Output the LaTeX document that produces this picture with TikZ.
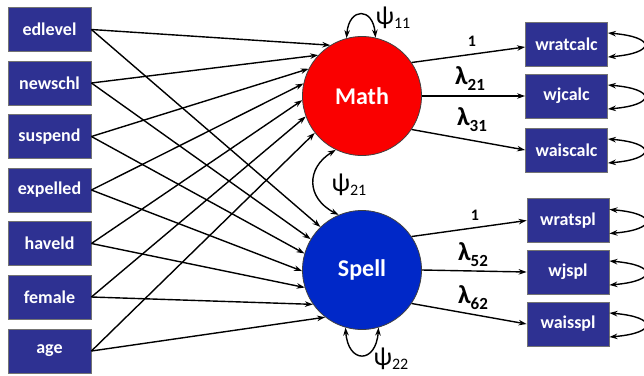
\documentclass[tikz,border=0pt]{standalone}
\usepackage{fontspec}
\setmainfont{Carlito}
\usetikzlibrary{arrows.meta,calc}
\definecolor{boxblue}{RGB}{46,49,146}
\definecolor{mathred}{RGB}{250,0,0}
\definecolor{spellblue}{RGB}{0,40,200}
\newcommand\lamlab[1]{{\fontsize{26}{26}\selectfont\bfseries λ}{\fontsize{17}{17}\selectfont\bfseries\raisebox{-6pt}{#1}}}
\newcommand\psilab[1]{{\fontsize{26}{26}\selectfont ψ}{\fontsize{16}{16}\selectfont\raisebox{-4pt}{#1}}}
\begin{document}
\begin{tikzpicture}[x=1pt,y=-1pt,
  obs/.style={draw=black!55,line width=0.8pt,fill=boxblue,minimum width=83pt,minimum height=44pt,inner sep=0pt,text=white,font=\fontsize{18}{18}\selectfont\bfseries},
  lat/.style={circle,draw=black!75,line width=0.8pt,minimum size=119pt,inner sep=0pt,text=white,font=\fontsize{24}{24}\selectfont\bfseries},
  arr/.style={-{Stealth[length=8pt,width=5.5pt]},line width=1.4pt},
  dbl/.style={{Stealth[length=8pt,width=5.5pt]}-{Stealth[length=8pt,width=5.5pt]},line width=1.4pt},
  lab/.style={inner sep=0pt,text=black},
  one/.style={inner sep=0pt,font=\fontsize{16}{16}\selectfont\bfseries}]
\useasboundingbox (0,0) rectangle (644,375);
% left observed
\node[obs] (edlevel) at (49.5,29.5) {edlevel};
\node[obs] (newschl) at (49.5,83) {newschl};
\node[obs] (suspend) at (49.5,136.5) {suspend};
\node[obs] (expelled) at (49.5,190) {expelled};
\node[obs] (haveld) at (49.5,243.5) {haveld};
\node[obs] (female) at (49.5,297) {female};
\node[obs] (age) at (49.5,351) {age};
% latent
\node[lat,fill=mathred] (Math) at (362,96) {Math};
\node[lat,fill=spellblue] (Spell) at (362,270) {Spell};
% right observed
\node[obs,minimum width=82pt] (wratcalc) at (566.5,44) {wratcalc};
\node[obs,minimum width=82pt] (wjcalc) at (566.5,96) {wjcalc};
\node[obs,minimum width=82pt] (waiscalc) at (566.5,150) {waiscalc};
\node[obs,minimum width=82pt] (wratspl) at (568,220.5) {wratspl};
\node[obs,minimum width=82pt] (wjspl) at (568,272) {wjspl};
\node[obs,minimum width=82pt] (waisspl) at (568,324) {waisspl};
% paths to Math and Spell
\draw[arr] (edlevel.east) -- (Math.122);
\draw[arr] (newschl.east) -- (Math.137);
\draw[arr] (suspend.east) -- (Math.153);
\draw[arr] (expelled.east) -- (Math.168);
\draw[arr] (haveld.east) -- (Math.184);
\draw[arr] (female.east) -- (Math.200);
\draw[arr] (age.east) -- (Math.218);
\draw[arr] (edlevel.east) -- (Spell.134);
\draw[arr] (newschl.east) -- (Spell.149);
\draw[arr] (suspend.east) -- (Spell.164);
\draw[arr] (expelled.east) -- (Spell.181);
\draw[arr] (haveld.east) -- (Spell.197);
\draw[arr] (female.east) -- (Spell.215);
\draw[arr] (age.east) -- (Spell.232);
% loadings
\draw[arr] (Math.34) -- ($(wratcalc.west)+(0,3)$);
\draw[arr] (Math.0) -- (wjcalc.west);
\draw[arr] (Math.-34) -- (waiscalc.west);
\draw[arr] (Spell.34) -- (wratspl.west);
\draw[arr] (Spell.0) -- (wjspl.west);
\draw[arr] (Spell.-34) -- (waisspl.west);
\node[one] (o1) at (472,41) {1};
\node[lab] (l21) at (470,79) {\lamlab{21}};
\node[lab] (l31) at (472,120) {\lamlab{31}};
\node[one] (o2) at (475,215) {1};
\node[lab] (l52) at (473,255) {\lamlab{52}};
\node[lab] (l62) at (473,298) {\lamlab{62}};
% residual loops on indicators
\foreach \b in {wratcalc,wjcalc,waiscalc,wratspl,wjspl,waisspl}{
  \draw[dbl] ($(\b.east)+(0,-11)$) .. controls +(48,4) and +(48,-4) .. ($(\b.east)+(0,13)$);
}
% latent variances and covariance
\draw[dbl] (Math.105) .. controls (349,7) and (373,7) .. (Math.77);
\node[lab] (p11) at (393,18) {\psilab{11}};
\draw[dbl] (Spell.254) .. controls (348,364) and (376,364) .. (Spell.286);
\node[lab] (p22) at (391,359) {\psilab{22}};
\draw[dbl] (Math.244) .. controls (306,168) and (306,198) .. (Spell.113);
\node[lab] (p21) at (349,185) {\psilab{21}};
\end{tikzpicture}
\end{document}
